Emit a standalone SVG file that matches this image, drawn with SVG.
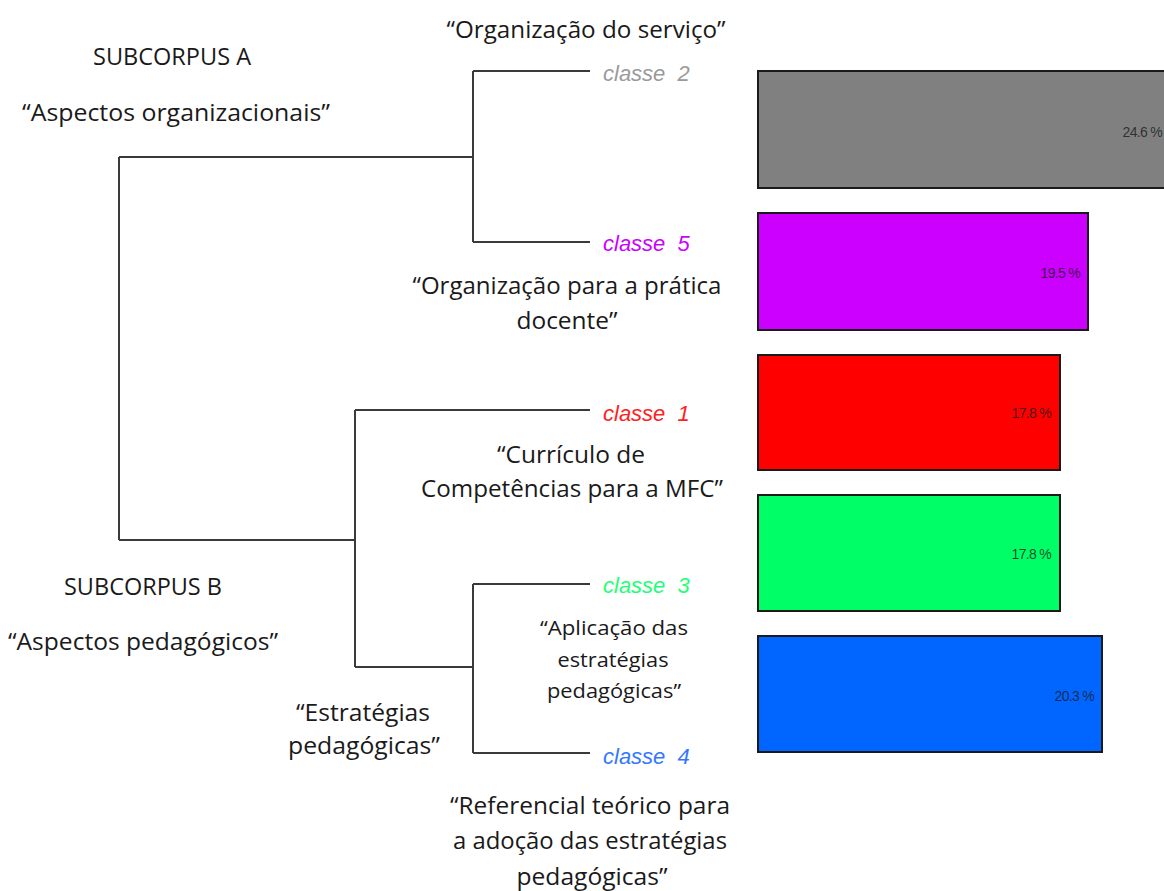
<svg xmlns="http://www.w3.org/2000/svg" width="1164" height="891" viewBox="0 0 1164 891">
<style>
.t{font-family:"Open Sans","Noto Sans",sans-serif;font-size:23px;fill:#1a1a1a;text-anchor:middle}
.s{font-size:20px}
.c{font-family:"Liberation Sans",Arial,sans-serif;font-size:22px;font-style:italic;white-space:pre}
.p{font-family:"Liberation Sans",Arial,sans-serif;font-size:14px;fill:#1a1a1a;fill-opacity:0.8;letter-spacing:-0.7px;text-anchor:end}
.bar{stroke:#1a1a1a;stroke-width:2}
.ln{stroke:#3a3a3a;stroke-width:2;fill:none}
</style>
<rect width="1164" height="891" fill="#fff"/>
<g id="connectors">
<path class="ln" d="M119,157V540M119,157H473M473,71V242M473,71H590M473,242H590M119,540H355M355,410V667M355,410H590M355,667H473M473,584V753M473,584H590M473,753H590"/>
</g>
<g id="classe2"><text class="c" x="603" y="81" fill="#9a9a9a">classe  2</text></g>
<g id="classe5"><text class="c" x="603" y="251" fill="#cc00ff">classe  5</text></g>
<g id="classe1"><text class="c" x="603" y="421" fill="#ff2020">classe  1</text></g>
<g id="classe3"><text class="c" x="603" y="593" fill="#22ff77">classe  3</text></g>
<g id="classe4"><text class="c" x="603" y="764" fill="#3377ff">classe  4</text></g>
<g id="bar2"><rect class="bar" x="758" y="71" width="420" height="117" fill="#808080"/><text class="p" x="1162" y="137">24.6 %</text></g>
<g id="bar5"><rect class="bar" x="758" y="213" width="330" height="117" fill="#cc00ff"/><text class="p" x="1080" y="278">19.5 %</text></g>
<g id="bar1"><rect class="bar" x="758" y="355" width="302" height="115" fill="#ff0000"/><text class="p" x="1051" y="418">17.8 %</text></g>
<g id="bar3"><rect class="bar" x="758" y="495" width="302" height="116" fill="#00ff66"/><text class="p" x="1051" y="559">17.8 %</text></g>
<g id="bar4"><rect class="bar" x="758" y="636" width="344" height="116" fill="#0066ff"/><text class="p" x="1094" y="701">20.3 %</text></g>
<g id="labels">
<text class="t" x="172" y="65" textLength="158" lengthAdjust="spacingAndGlyphs">SUBCORPUS A</text>
<text class="t" x="176" y="121" textLength="308" lengthAdjust="spacingAndGlyphs">“Aspectos organizacionais”</text>
<text class="t" x="586" y="38" textLength="279" lengthAdjust="spacingAndGlyphs">“Organização do serviço”</text>
<text class="t" x="567" y="294" textLength="309" lengthAdjust="spacingAndGlyphs">“Organização para a prática</text>
<text class="t" x="567" y="329" textLength="101" lengthAdjust="spacingAndGlyphs">docente”</text>
<text class="t" x="571" y="463" textLength="148" lengthAdjust="spacingAndGlyphs">“Currículo de</text>
<text class="t" x="572" y="497" textLength="302" lengthAdjust="spacingAndGlyphs">Competências para a MFC”</text>
<text class="t" x="143" y="595" textLength="158" lengthAdjust="spacingAndGlyphs">SUBCORPUS B</text>
<text class="t" x="143" y="650" textLength="270" lengthAdjust="spacingAndGlyphs">“Aspectos pedagógicos”</text>
<text class="t" x="363" y="721" textLength="134" lengthAdjust="spacingAndGlyphs">“Estratégias</text>
<text class="t" x="364" y="754" textLength="152" lengthAdjust="spacingAndGlyphs">pedagógicas”</text>
<text class="t s" x="614" y="635" textLength="148" lengthAdjust="spacingAndGlyphs">“Aplicação das</text>
<text class="t s" x="613" y="667" textLength="111" lengthAdjust="spacingAndGlyphs">estratégias</text>
<text class="t s" x="614" y="698" textLength="134" lengthAdjust="spacingAndGlyphs">pedagógicas”</text>
<text class="t" x="590" y="814" textLength="280" lengthAdjust="spacingAndGlyphs">“Referencial teórico para</text>
<text class="t" x="590" y="849" textLength="274" lengthAdjust="spacingAndGlyphs">a adoção das estratégias</text>
<text class="t" x="592" y="885" textLength="151" lengthAdjust="spacingAndGlyphs">pedagógicas”</text>
</g>
</svg>
